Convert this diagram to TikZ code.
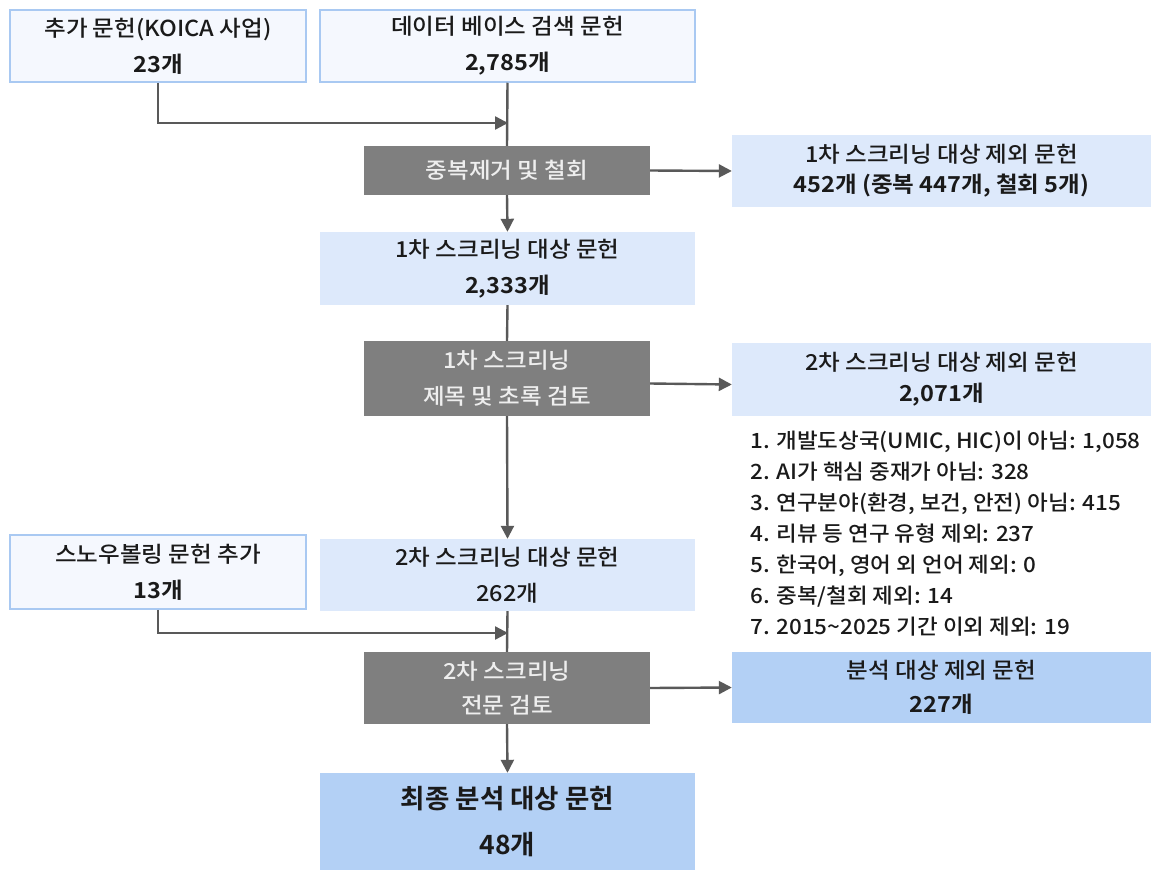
\documentclass[tikz,border=0pt]{standalone}
\usepackage{fontspec}
\setmainfont{Noto Sans CJK KR Medium}[FakeStretch=1.07,BoldFont={Noto Sans CJK KR Bold}]
\newfontfamily\finalfont{Noto Sans CJK KR Bold}
\usetikzlibrary{arrows.meta}
\definecolor{srcfill}{HTML}{F5F8FE}
\definecolor{srcline}{HTML}{A9C9F2}
\definecolor{lightfill}{HTML}{DDE9FB}
\definecolor{darkfill}{HTML}{B3D0F5}
\definecolor{grayfill}{HTML}{7F7F7F}
\definecolor{graytext}{HTML}{EEEEEE}
\definecolor{conncol}{HTML}{595959}
\definecolor{txt}{HTML}{1A1A1A}
\tikzset{
  x=1pt,y=-1pt,
  box/.style={inner sep=0pt,align=center,text=txt,font=\fontsize{22}{36}\selectfont},
  srcbox/.style={box,draw=srcline,line width=1.5pt,fill=srcfill,minimum width=296pt,minimum height=72pt},
  lightbox/.style={box,fill=lightfill},
  darkbox/.style={box,fill=darkfill},
  graybox/.style={box,fill=grayfill,text=graytext,minimum width=286pt},
  conn/.style={draw=conncol,line width=2.4pt},
  arr/.style={conn,-{Triangle[length=13pt,width=13pt]}}
}
\begin{document}
\begin{tikzpicture}
\useasboundingbox[fill=white] (0,0) rectangle (1151,870);
% boxes
\node[srcbox] (A) at (158,46) {추가 문헌(KOICA 사업)\\\textbf{23개}};
\node[srcbox,minimum width=375pt] (B) at (507.5,46) {데이터 베이스 검색 문헌\\\textbf{2,785개}};
\node[graybox,minimum height=49pt] (G1) at (507,170.5) {중복제거 및 철회};
\node[lightbox,minimum width=419pt,minimum height=72pt,font=\fontsize{22}{30}\selectfont] (E1) at (941.5,171) {1차 스크리닝 대상 제외 문헌\\\textbf{452개 (중복 447개, 철회 5개)}};
\node[lightbox,minimum width=375pt,minimum height=73pt] (S1) at (507.5,268.5) {1차 스크리닝 대상 문헌\\\textbf{2,333개}};
\node[graybox,minimum height=75pt] (G2) at (507,378.5) {1차 스크리닝\\제목 및 초록 검토};
\node[lightbox,minimum width=419pt,minimum height=73pt,font=\fontsize{22}{31}\selectfont] (E2) at (941.5,379.5) {2차 스크리닝 대상 제외 문헌\\\textbf{2,071개}};
\node[inner sep=0pt,anchor=north west,align=left,text=txt,font=\fontsize{21}{31}\selectfont] (L) at (750,431) {1. 개발도상국(UMIC, HIC)이 아님: 1,058\\2. AI가 핵심 중재가 아님: 328\\3. 연구분야(환경, 보건, 안전) 아님: 415\\4. 리뷰 등 연구 유형 제외: 237\\5. 한국어, 영어 외 언어 제외: 0\\6. 중복/철회 제외: 14\\7. 2015\textasciitilde 2025 기간 이외 제외: 19};
\node[srcbox,minimum height=74pt] (C) at (158,572) {스노우볼링 문헌 추가\\\textbf{13개}};
\node[lightbox,minimum width=375pt,minimum height=72pt] (S2) at (507.5,575) {2차 스크리닝 대상 문헌\\262개};
\node[graybox,minimum height=72pt,font=\fontsize{22}{34}\selectfont] (G3) at (507,688) {2차 스크리닝\\전문 검토};
\node[darkbox,minimum width=419pt,minimum height=71pt,font=\fontsize{22}{34}\selectfont] (E3) at (941.5,687.5) {분석 대상 제외 문헌\\\textbf{227개}};
\node[darkbox,minimum width=375pt,minimum height=97pt,font=\finalfont\fontsize{26.5}{46}\selectfont] (F) at (507.5,821.5) {최종 분석 대상 문헌\\48개};
% junctions
\coordinate (j1) at (508,123);
\coordinate (j2) at (508,633);
% connectors
\draw[arr] (A.south) |- (j1);
\draw[conn] (B.south) -- (G1.north);
\draw[arr] (G1.east) -- (E1.west);
\draw[arr] (G1.south) -- (S1.north);
\draw[conn] (S1.south) -- (G2.north);
\draw[arr] ([yshift=-5pt]G2.east) -- ([yshift=-5pt]E2.west);
\draw[arr] (G2.south) -- (S2.north);
\draw[arr] (C.south) |- (j2);
\draw[conn] (S2.south) -- (G3.north);
\draw[arr] (G3.east) -- (E3.west);
\draw[arr] (G3.south) -- (F.north);
\end{tikzpicture}
\end{document}
